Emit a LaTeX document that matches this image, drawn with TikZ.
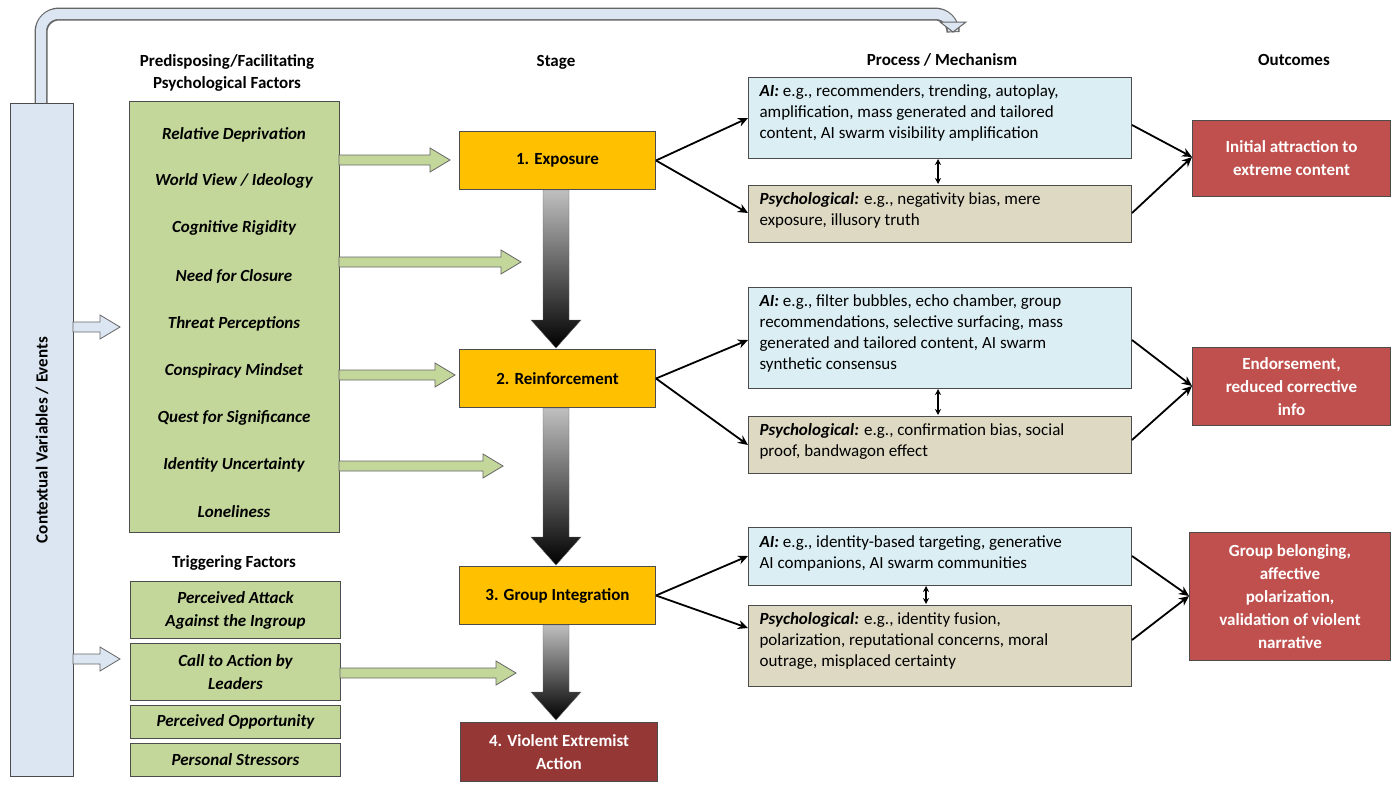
\documentclass[tikz,border=0pt]{standalone}
\usepackage{fontspec}
\setmainfont{Carlito}
\usetikzlibrary{arrows.meta,calc}
\definecolor{ctx}{HTML}{DCE6F2}
\definecolor{grn}{HTML}{C4D79B}
\definecolor{stg}{HTML}{FFC000}
\definecolor{aib}{HTML}{DBEEF4}
\definecolor{psy}{HTML}{DDD9C3}
\definecolor{outr}{HTML}{C0504D}
\definecolor{vio}{HTML}{953735}
\tikzset{
 box/.style={draw=black!70,line width=1pt,inner sep=0pt,anchor=north west},
 fs/.style={font=\fontsize{17}{21}\selectfont},
 hdr/.style={font=\fontsize{17}{24}\selectfont\bfseries,align=center},
 item/.style={font=\fontsize{17}{21}\selectfont\bfseries\itshape,align=center},
 conn/.style={-{Stealth[length=10pt,width=9pt]},line width=1.8pt},
 dbl/.style={{Stealth[length=6pt,width=6pt]}-{Stealth[length=6pt,width=6pt]},line width=1.3pt},
}
\newcommand{\rbox}[6]{\node[box,fill=#5,minimum width=#3-#1,minimum height=#4-#2] (#6) at (#1,#2) {};}
\newcommand{\garrow}[4]{% y, x1, x2, color
 \fill[#4,draw=black!60,line width=0.8pt] (#2,#1-5) -- (#3-20,#1-5) -- (#3-20,#1-12) -- (#3,#1) -- (#3-20,#1+12) -- (#3-20,#1+5) -- (#2,#1+5) -- cycle;}
\newcommand{\varrow}[3]{% x, y1, y2
 \shade[top color=black!25,bottom color=black,draw=black!60] (#1-13,#2) -- (#1+13,#2) -- (#1+13,#3-28) -- (#1+25,#3-28) -- (#1,#3) -- (#1-25,#3-28) -- (#1-13,#3-28) -- cycle;}
\begin{document}
\begin{tikzpicture}[x=1pt,y=-1pt]
\useasboundingbox (0,0) rectangle (1400,793);
% top bent arrow
\draw[black!60,line width=13pt,rounded corners=18pt] (41,103) -- (41,14) -- (953,14) -- (953,22);
\draw[ctx,line width=10pt,rounded corners=17pt] (41,104) -- (41,14) -- (953,14) -- (953,23);
\fill[ctx,draw=black!60,line width=1pt] (940,22) -- (966,22) -- (953,32) -- cycle;
% context bar
\rbox{10}{103}{73}{776}{ctx}{ctx}
\node[rotate=90,font=\fontsize{17}{21}\selectfont\bfseries] at (ctx.center) {Contextual Variables / Events};
% headers
\node[hdr] (h1) at (227,73) {Predisposing/Facilitating\\[-2pt]Psychological Factors};
\node[hdr] (h2) at (556,62) {Stage};
\node[hdr] (h3) at (942,60) {Process / Mechanism};
\node[hdr] (h4) at (1294,60) {Outcomes};
\node[hdr] (h5) at (234,563) {Triggering Factors};
% green box
\rbox{129}{101}{339}{532}{grn}{pf}
\foreach \t/\y [count=\i] in {{Relative Deprivation}/135,{World View / Ideology}/181,{Cognitive Rigidity}/228,{Need for Closure}/277,{Threat Perceptions}/324,{Conspiracy Mindset}/371,{Quest for Significance}/418,{Identity Uncertainty}/465,{Loneliness}/512}
 \node[item] (pf\i) at (234,\y) {\t};
% triggers
\rbox{130}{581}{340}{638}{grn}{t1}\node[item,font=\fontsize{17}{23}\selectfont\bfseries\itshape] at (t1.center) {Perceived Attack\\Against the Ingroup};
\rbox{130}{643}{340}{700}{grn}{t2}\node[item,font=\fontsize{17}{23}\selectfont\bfseries\itshape] at (t2.center) {Call to Action by\\Leaders};
\rbox{130}{705}{340}{738}{grn}{t3}\node[item] at (t3.center) {Perceived Opportunity};
\rbox{130}{743}{340}{776}{grn}{t4}\node[item] at (t4.center) {Personal Stressors};
% block arrows
\garrow{160}{339}{450}{grn}
\garrow{262}{339}{521}{grn}
\garrow{375}{339}{455}{grn}
\garrow{466}{339}{503}{grn}
\garrow{673}{340}{516}{grn}
\garrow{327}{73}{120}{ctx}
\garrow{659}{73}{120}{ctx}
% stages
\rbox{459}{131}{655}{189}{stg}{s1}\node[font=\fontsize{17}{21}\selectfont\bfseries] at (s1.center) {1. Exposure};
\rbox{459}{349}{655}{407}{stg}{s2}\node[font=\fontsize{17}{21}\selectfont\bfseries] at (s2.center) {2. Reinforcement};
\rbox{459}{566}{655}{624}{stg}{s3}\node[font=\fontsize{17}{21}\selectfont\bfseries] at (s3.center) {3. Group Integration};
\rbox{460}{722}{657}{781}{vio}{s4}\node[font=\fontsize{17}{23}\selectfont\bfseries,text=white,align=center] at (s4.center) {4. Violent Extremist\\Action};
\varrow{556}{190}{348}
\varrow{556}{408}{565}
\varrow{556}{625}{720}
% process boxes
\rbox{748}{77}{1131}{158}{aib}{a1}
\node[fs,anchor=north west,align=left] at (756,81) {\textbf{\textit{AI:}} e.g., recommenders, trending, autoplay,\\amplification, mass generated and tailored\\content, AI swarm visibility amplification};
\rbox{748}{185}{1131}{242}{psy}{p1}
\node[fs,anchor=north west,align=left] at (756,189) {\textbf{\textit{Psychological:}} e.g., negativity bias, mere\\exposure, illusory truth};
\rbox{748}{287}{1131}{388}{aib}{a2}
\node[fs,anchor=north west,align=left] at (756,291) {\textbf{\textit{AI:}} e.g., filter bubbles, echo chamber, group\\recommendations, selective surfacing, mass\\generated and tailored content, AI swarm\\synthetic consensus};
\rbox{748}{416}{1131}{473}{psy}{p2}
\node[fs,anchor=north west,align=left] at (756,420) {\textbf{\textit{Psychological:}} e.g., confirmation bias, social\\proof, bandwagon effect};
\rbox{748}{527}{1131}{585}{aib}{a3}
\node[fs,anchor=north west,align=left] at (756,532) {\textbf{\textit{AI:}} e.g., identity-based targeting, generative\\AI companions, AI swarm communities};
\rbox{748}{605}{1131}{686}{psy}{p3}
\node[fs,anchor=north west,align=left] at (756,609) {\textbf{\textit{Psychological:}} e.g., identity fusion,\\polarization, reputational concerns, moral\\outrage, misplaced certainty};
\draw[dbl] (938,159) -- (938,184);
\draw[dbl] (938,389) -- (938,415);
\draw[dbl] (926,586) -- (926,604);
% outcomes
\rbox{1192}{120}{1390}{196}{outr}{o1}\node[font=\fontsize{17}{23}\selectfont\bfseries,text=white,align=center] at (o1.center) {Initial attraction to\\extreme content};
\rbox{1192}{347}{1390}{425}{outr}{o2}\node[font=\fontsize{17}{23}\selectfont\bfseries,text=white,align=center] at (o2.center) {Endorsement,\\reduced corrective\\info};
\rbox{1189}{532}{1390}{660}{outr}{o3}\node[font=\fontsize{17}{23}\selectfont\bfseries,text=white,align=center] at (o3.center) {Group belonging,\\affective\\polarization,\\validation of violent\\narrative};
% connectors
\draw[conn] (s1.east) -- (a1.west|-0,118);
\draw[conn] (s1.east) -- (p1.west|-0,213);
\draw[conn] (s2.east) -- (a2.west|-0,340);
\draw[conn] (s2.east) -- (p2.west|-0,445);
\draw[conn] (s3.east) -- (a3.west|-0,556);
\draw[conn] (s3.east) -- (p3.west|-0,628);
\draw[conn] (a1.east|-0,125) -- (o1.west|-0,157);
\draw[conn] (p1.east|-0,213) -- (o1.west|-0,157);
\draw[conn] (a2.east|-0,340) -- (o2.west|-0,386);
\draw[conn] (p2.east|-0,440) -- (o2.west|-0,386);
\draw[conn] (a3.east|-0,556) -- (o3.west|-0,596);
\draw[conn] (p3.east|-0,640) -- (o3.west|-0,596);
\end{tikzpicture}
\end{document}
